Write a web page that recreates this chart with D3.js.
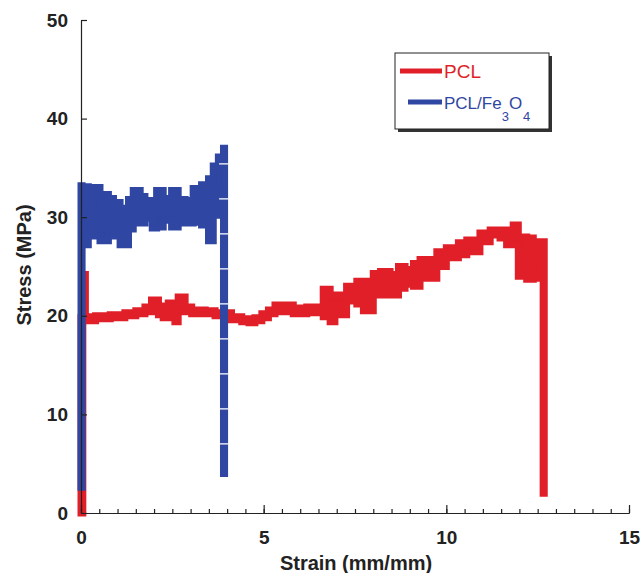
<!DOCTYPE html>
<html>
<head>
<meta charset="utf-8">
<script src="https://cdn.jsdelivr.net/npm/d3@7"></script>
<style>
  body { margin: 0; background: #fff; }
  svg { display: block; font-family: "Liberation Sans", Arial, sans-serif; }
  .axis text { font-weight: bold; font-size: 19px; fill: #222; }
  .axis path, .axis line { stroke: #222; stroke-width: 1.2; }
</style>
</head>
<body>
<svg width="640" height="573"></svg>
<script>
// tick labels
var xTicks = [0, 5, 10, 15]
var yTicks = [0, 10, 20, 30, 40, 50]

// PCL (red) - each point: stress band from lo to hi, held until next strain
var pclStrain = [0, 0.05, 0.12, 0.4, 0.8, 1.2, 1.5, 1.75, 1.93, 2.12, 2.25, 2.39, 2.57, 2.66, 2.85, 3.03, 3.4, 3.67,
    4.12, 4.4, 4.6, 4.76, 4.95, 5.13, 5.31, 5.81, 6.18, 6.63, 6.82, 6.95, 7.1, 7.27, 7.55, 7.73, 8.0, 8.2,
    8.46, 8.69, 8.87, 9.1, 9.28, 9.51, 9.74, 10.0, 10.33, 10.56, 10.92, 11.2, 11.47, 11.65, 11.83, 11.97,
    12.2, 12.38, 12.57, 12.65, 12.68]
var pclHi = [19.8, 24.2, 19.9, 20.0, 20.1, 20.3, 20.5, 20.9, 21.6, 21.0, 20.9, 21.3, 21.3, 21.9, 20.9, 20.6, 20.5, 20.3,
    19.9, 19.7, 19.6, 19.8, 20.2, 20.6, 21.1, 20.8, 20.9, 22.7, 22.0, 22.1, 22.1, 23.0, 23.5, 23.5, 24.3, 24.5,
    24.2, 25.0, 24.7, 25.3, 25.7, 25.7, 26.5, 26.9, 27.4, 27.7, 28.4, 28.7, 28.7, 28.2, 29.2, 28.0,
    27.9, 26.7, 27.5, 27.5, 27.5]
var pclLo = [0, 19.5, 19.5, 19.7, 19.8, 20.0, 20.2, 20.4, 20.5, 20.1, 19.8, 20.4, 19.4, 20.4, 20.4, 20.2, 20.2, 20.0,
    19.6, 19.4, 19.3, 19.5, 19.8, 20.2, 20.4, 20.2, 20.3, 19.9, 19.4, 21.2, 20.1, 21.5, 21.2, 20.5, 22.1, 22.1,
    22.1, 22.8, 23.2, 23.0, 23.8, 23.8, 25.0, 25.9, 26.2, 26.5, 27.5, 28.2, 27.9, 27.2, 27.2, 24.0,
    23.7, 23.8, 25.5, 2.0, 2.0]

// PCL/Fe3O4 (blue)
var feStrain = [0, 0.03, 0.2, 0.34, 0.52, 0.75, 0.89, 1.07, 1.3, 1.43, 1.62, 1.75, 1.95, 2.07, 2.25, 2.48, 2.66,
    2.85, 3.07, 3.3, 3.49, 3.62, 3.76, 3.9, 3.93]
var feHi = [33.2, 33.1, 30.8, 33.0, 32.3, 31.9, 31.5, 30.9, 31.8, 32.7, 32.1, 31.7, 31.6, 32.7, 31.9, 32.7, 31.8,
    31.7, 32.9, 33.3, 33.9, 35.2, 36.1, 37.0, 37.0]
var feLo = [2.6, 27.2, 28.7, 28.1, 27.6, 28.8, 28.1, 27.2, 28.8, 29.6, 29.4, 29.9, 28.9, 29.0, 29.7, 29.0, 29.4,
    29.4, 29.5, 29.2, 27.6, 30.3, 30.2, 4.0, 4.0]

var red = "#e01f28"
var blue = "#2f46a2"

var svg = d3.select("svg")

var xScale = d3.scaleLinear().domain([0, 15]).range([81, 629])
var yScale = d3.scaleLinear().domain([0, 50]).range([513, 20])

var toRows = function(strain, hi, lo) {
    return strain.map(function(s, i) { return {x: s, hi: hi[i], lo: lo[i]} })
}

var band = d3.area()
    .x(function(d) { return xScale(d.x) })
    .y0(function(d) { return yScale(d.lo) })
    .y1(function(d) { return yScale(d.hi) })
    .curve(d3.curveStepAfter)

// series
svg.append("path")
    .datum(toRows(pclStrain, pclHi, pclLo))
    .attr("d", band)
    .attr("fill", red)
    .attr("stroke", red)
    .attr("stroke-width", 7)
    .attr("stroke-linejoin", "miter")

var feRows = toRows(feStrain, feHi, feLo)
svg.append("path")
    .datum(feRows)
    .attr("d", band)
    .attr("fill", blue)
    .attr("stroke", blue)
    .attr("stroke-width", 7)
    .attr("stroke-linejoin", "miter")

// small light gaps on the blue break line
var last = feRows[feRows.length - 1]
svg.append("line")
    .attr("x1", xScale(last.x) - 1)
    .attr("x2", xScale(last.x) - 1)
    .attr("y1", yScale(last.hi))
    .attr("y2", yScale(last.lo))
    .attr("stroke", "#fff")
    .attr("stroke-width", 9)
    .attr("stroke-dasharray", "1.2 33.8")
    .attr("stroke-dashoffset", -15)

// axes
var xMinor = d3.range(0, 15.01, 0.5)
svg.append("g")
    .attr("class", "axis")
    .attr("transform", "translate(0," + yScale(0) + ")")
    .call(d3.axisBottom(xScale).tickValues(xMinor).tickSizeInner(-4).tickSizeOuter(0).tickFormat(""))
svg.append("g")
    .attr("class", "axis")
    .attr("transform", "translate(0," + yScale(0) + ")")
    .call(d3.axisBottom(xScale).tickValues(xTicks).tickSizeInner(-8).tickSizeOuter(0).tickPadding(18))

svg.append("g")
    .attr("class", "axis")
    .attr("transform", "translate(" + xScale(0) + ",0)")
    .call(d3.axisLeft(yScale).tickValues(yTicks).tickSizeInner(-6).tickSizeOuter(0).tickPadding(13))

svg.append("text")
    .attr("transform", "translate(31,265) rotate(-90)")
    .attr("text-anchor", "middle")
    .attr("font-weight", "bold")
    .attr("font-size", 20)
    .attr("fill", "#222")
    .text("Stress (MPa)")

svg.append("text")
    .attr("x", 356)
    .attr("y", 570)
    .attr("text-anchor", "middle")
    .attr("font-weight", "bold")
    .attr("font-size", 20)
    .attr("fill", "#222")
    .text("Strain (mm/mm)")

// legend
var lg = svg.append("g")
lg.append("rect").attr("x", 398).attr("y", 56).attr("width", 154).attr("height", 76).attr("fill", "#333")
lg.append("rect").attr("x", 395).attr("y", 53).attr("width", 154).attr("height", 76)
    .attr("fill", "#fff").attr("stroke", "#222").attr("stroke-width", 1)

lg.append("line").attr("x1", 400).attr("x2", 442).attr("y1", 71).attr("y2", 71)
    .attr("stroke", red).attr("stroke-width", 5)
lg.append("text").attr("x", 444).attr("y", 78).attr("font-size", 19).attr("fill", red).text("PCL")

lg.append("line").attr("x1", 408).attr("x2", 442).attr("y1", 102).attr("y2", 102)
    .attr("stroke", blue).attr("stroke-width", 5)
var t = lg.append("text").attr("x", 444).attr("y", 109).attr("font-size", 17).attr("fill", blue)
t.append("tspan").text("PCL/Fe")
t.append("tspan").attr("dy", 12).attr("font-size", 13).text("3")
t.append("tspan").attr("dy", -12).text("O")
t.append("tspan").attr("dx", 1).attr("dy", 12).attr("font-size", 13).text("4")
</script>
</body>
</html>
